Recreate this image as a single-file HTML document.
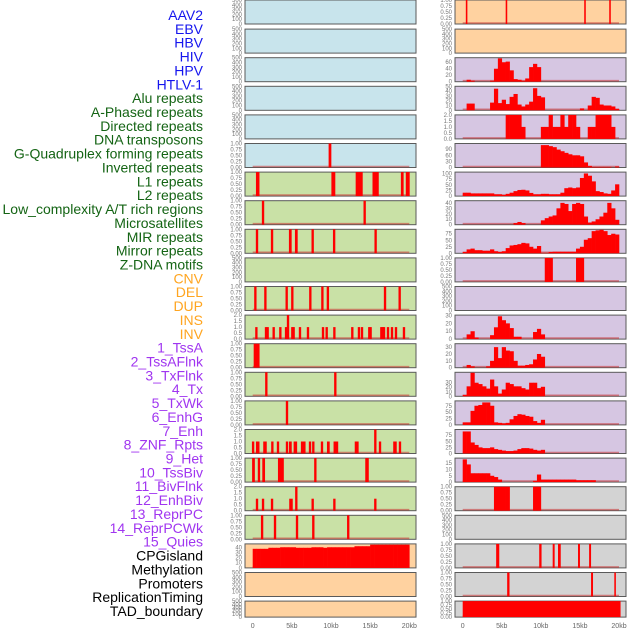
<!DOCTYPE html>
<html><head><meta charset="utf-8">
<style>
html,body{margin:0;padding:0;background:#fff;}
svg{display:block;font-family:"Liberation Sans",sans-serif;}
</style></head>
<body>
<svg id="chart" width="630" height="630" viewBox="0 0 630 630"></svg>
<script>
// ---------- data ----------
const trackLabels = ["AAV2","EBV","HBV","HIV","HPV","HTLV-1","Alu repeats","A-Phased repeats","Directed repeats","DNA transposons","G-Quadruplex forming repeats","Inverted repeats","L1 repeats","L2 repeats","Low_complexity A/T rich regions","Microsatellites","MIR repeats","Mirror repeats","Z-DNA motifs","CNV","DEL","DUP","INS","INV","1_TssA","2_TssAFlnk","3_TxFlnk","4_Tx","5_TxWk","6_EnhG","7_Enh","8_ZNF_Rpts","9_Het","10_TssBiv","11_BivFlnk","12_EnhBiv","13_ReprPC","14_ReprPCWk","15_Quies","CPGisland","Methylation","Promoters","ReplicationTiming","TAD_boundary"];
const labelGroups = ["virus","virus","virus","virus","virus","virus","repeat","repeat","repeat","repeat","repeat","repeat","repeat","repeat","repeat","repeat","repeat","repeat","repeat","sv","sv","sv","sv","sv","state","state","state","state","state","state","state","state","state","state","state","state","state","state","state","other","other","other","other","other"];
const xTickValues = [0,5,10,15,20];
const xTickLabels = ["0","5kb","10kb","15kb","20kb"];

// left column spike tracks (positions in kb, heights)
const L5pos=[9.87], L5h=[1], L5w=[0.35];
const L6pos=[0.64,10.3,13.6,15.7,19.1,19.8], L6h=[1,1,1,1,1,1], L6w=[0.45,0.5,0.9,0.8,0.35,0.5];
const L7pos=[1.32,14.3], L7h=[1,1];
const L8pos=[0.55,2.47,4.8,5.57,7.66,10.4,15.7], L8h=[1,1,1,1,1,1,1], L8w=[0.3,0.3,0.35,0.35,0.3,0.3,0.3];
const L10pos=[0.34,1.62,4.34,5.06,7.36,8.9,9.6,16.9,18.77], L10h=[1,1,1,1,1,1,1,1,1];
const L11pos=[0.47,1.70,1.91,2.68,3.53,4.26,4.47,4.51,5.06,5.23,6.04,7.06,8.98,9.45,10.43,12.72,13.57,13.96,14.89,15.06,16.43,16.6,16.77,17.28,17.79,18.3,19.32];
const L11h=[1,1,1,1,1,1,1,2,1,1,1,1,1,1,1,1,1,1,1,1,1,1,1,1,1,1,1];
const L12pos=[0.5], L12h=[1], L12w=[0.75];
const L13pos=[1.74,10.55], L13h=[1,1];
const L14pos=[4.38], L14h=[1];
const L15pos=[0.05,0.64,1.57,2.51,3.23,4.38,4.81,5.45,6.38,6.6,7.32,7.74,8.85,9.66,10.55,10.77,13.28,15.66,16.26,18.17,18.81];
const L15h=[1,1,1,1,1,1,1,1,1,1,1,1,1,1,1,1,1,2,1,1,1];
const L15w=[0.3,0.45,0.45,0.3,0.3,0.3,0.35,0.45,0.45,0.3,0.3,0.3,0.3,0.35,0.45,0.3,0.5,0.3,0.3,0.45,0.3];
const L16pos=[0.1,0.8,1.4,3.6,8.0,14.6], L16h=[1,1,1,1,1,1], L16w=[0.35,0.3,0.35,0.75,0.3,0.45];
const L17pos=[0.55,1.32,2.47,4.89,5.57,7.66,10.43,15.66], L17h=[1,1,1,1,2,1,1,1], L17w=[0.3,0.3,0.3,0.45,0.3,0.3,0.3,0.3];
const L18pos=[1.2,2.85,5.66,7.74,12.2], L18h=[1,1,1,1,1];
const L19bins=[37,37,37,37,39,39,39,40,40,40,40,39,39,39,39,40,40,40,39,40,40,40,40,40,40,40,42,42,42,42,45,45,45,45,45,45,45,45,45,45];

// right column tracks
const R0pos=[0.5,5.6,15.65,18.85], R0h=[1,1,1,1], R0w=[0.2,0.2,0.2,0.2];
const R2bins=[0,6,3,0,0,0,0,3,40,72,60,62,35,8,6,3,10,45,55,45,0,0,0,0,0,0,0,0,0,0,0,0,0,0,0,0,0,0,0,0];
const R3bins=[0,14,14,0,0,0,0,16,45,15,22,13,28,34,12,8,12,18,46,30,27,0,0,0,0,0,0,0,0,0,4,0,10,28,26,12,10,10,8,3];
const R4bins=[0,0,0,0,0,0,0,0,0,0,0,2,2,2,2,1,0,0,0,0,1,1,2,1,1,2,1,2,2,1,0,0,1,1,2,2,2,2,1,0];
const R5bins=[0,0,0,0,0,0,0,0,0,0,0,0,0,0,0,0,0,0,0,0,110,110,105,100,88,80,72,65,60,60,55,25,8,3,3,3,3,3,0,5];
const R6bins=[15,15,12,12,12,12,12,12,8,8,5,10,15,22,27,28,25,14,8,8,10,10,8,8,8,15,35,38,35,38,80,100,90,65,22,18,12,10,25,52];
const R7bins=[0,0,0,0,0,0,0,0,0,0,0,0,0,3,5,3,0,0,0,0,8,12,15,17,30,40,38,25,38,40,38,15,4,6,10,15,22,40,30,9];
const R8bins=[5,15,18,12,12,10,10,15,8,5,8,20,30,32,35,40,38,25,18,28,2,2,5,6,6,6,6,6,6,18,25,52,58,85,88,90,85,70,75,72];
const R9bins=[0,0,0,0,0,0,0,0,0,0,0,0,0,0,0,0,0,0,0,0,0,1,1,0,0,0,0,0,0,1,1,0,0,0,0,0,0,0,0,0];
const R11bins=[0,6,10,2,0,0,0,5,15,29,24,20,14,3,3,0,0,0,9,13,6,0,0,0,0,0,0,0,0,0,0,0,0,0,0,0,0,0,0,0];
const R12bins=[0,4,2,0,0,0,2,10,30,14,30,25,24,10,3,3,4,5,12,20,16,0,0,0,0,0,0,0,0,0,0,0,0,0,0,0,0,0,0,0];
const R13bins=[3,22,52,30,27,22,17,37,22,6,15,30,27,22,22,18,15,30,30,18,21,0,0,0,0,0,0,0,0,0,0,0,0,0,0,0,0,0,0,0];
const R14bins=[10,10,55,75,78,88,88,75,10,8,6,8,22,35,42,40,35,32,15,8,20,0,0,0,0,0,0,0,0,0,0,0,0,0,0,0,0,0,0,0];
const R15bins=[90,90,45,35,25,22,22,25,18,15,12,10,10,12,18,22,22,20,15,12,15,0,0,0,0,0,0,0,0,0,0,0,0,0,0,0,0,0,0,0];
const R16bins=[18,14,7,7,7,7,7,5,4,2,0,0,0,0,0,0,0,0,1,6,2,2,2,2,2,2,2,2,2,1.5,1.5,1.5,1.5,1.5,0,0,0,0,0,0];
const R17bins=[0,0,0,0,0,0,0,0,1,1,1,1,0,0,0,0,0,0,1,1,0,0,0,0,0,0,0,0,0,0,0,0,0,0,0,0,0,0,0,0];
const R19pos=[4.48,9.94,11.64,12.37,14.88,16.3], R19h=[1,1,1,1,1,1], R19w=[0.4,0.3,0.25,0.35,0.25,0.25];
const R20pos=[5.84,16.55,19.5], R20h=[1,1,1], R20w=[0.3,0.25,0.2];
const R21pos=[10.1], R21h=[1], R21w=[20.2];

// ---------- rendering ----------
const svg=document.getElementById('chart');
const NS='http://www.w3.org/2000/svg';
function mk(tag,attrs,parent){const e=document.createElementNS(NS,tag);for(const k in attrs)e.setAttribute(k,attrs[k]);(parent||svg).appendChild(e);return e;}

const groupColor={virus:'#1515ee',repeat:'#146414',sv:'#ffa520',state:'#a035f0',other:'#000'};
const bgColors={blue:'#c8e4ec',green:'#c9e1a6',orange:'#ffd2a0',purple:'#d6c6e2',gray:'#d3d3d3'};
const EMPTY={kind:'empty'};
const sp=(pos,h,w,max)=>({kind:'spike',pos,h,w,max:max||1});
const hi=(bins,max,ticks,fmt)=>({kind:'hist',bins,max,ticks,fmt});
const T1=[0,0.25,0.5,0.75,1], T2=[0,0.5,1,1.5,2];

const leftTracks=[EMPTY,EMPTY,EMPTY,EMPTY,EMPTY,sp(L5pos,L5h,L5w),sp(L6pos,L6h,L6w),sp(L7pos,L7h),sp(L8pos,L8h,L8w),EMPTY,
 sp(L10pos,L10h),sp(L11pos,L11h,null,2),sp(L12pos,L12h,L12w),sp(L13pos,L13h),sp(L14pos,L14h),sp(L15pos,L15h,L15w,2),
 sp(L16pos,L16h,L16w),sp(L17pos,L17h,L17w,2),sp(L18pos,L18h),hi(L19bins,46.5,[0,10,20,30,40]),EMPTY,EMPTY];
const leftBg=['blue','blue','blue','blue','blue','blue','green','green','green','green','green','green','green','green','green','green','green','green','green','orange','orange','orange'];
const rightTracks=[sp(R0pos,R0h,R0w),EMPTY,hi(R2bins,74,[0,20,40,60]),hi(R3bins,50,[0,10,20,30,40,50]),hi(R4bins,2,T2,1),
 hi(R5bins,118,[0,30,60,90]),hi(R6bins,106,[0,25,50,75,100]),hi(R7bins,44,[0,10,20,30,40]),hi(R8bins,92,[0,25,50,75]),
 hi(R9bins,1,T1,2),EMPTY,hi(R11bins,30.5,[0,10,20,30]),hi(R12bins,35,[0,10,20,30]),hi(R13bins,53,[0,10,20,30]),
 hi(R14bins,94,[0,25,50,75]),hi(R15bins,98,[0,25,50,75]),hi(R16bins,19,[0,5,10,15]),hi(R17bins,1,T1,2),EMPTY,
 sp(R19pos,R19h,R19w),sp(R20pos,R20h,R20w),sp(R21pos,R21h,R21w)];
const rightBg=['orange','orange','purple','purple','purple','purple','purple','purple','purple','purple','purple','purple','purple','purple','purple','purple','purple','gray','gray','gray','gray','gray'];

function panelTop(i){return i===0?0:0.5+28.6*i;}
function panelH(i){return i===21?16:24;}

function fmtTick(v,max,fmt){
  if(fmt===1||max===2) return v.toFixed(1);
  if(fmt===2||max===1) return v.toFixed(2);
  return String(v);
}

function drawTrack(col,i,tr,bg){
  const px=col===0?245:455, pw=171;
  const x0=col===0?252.7:462.7, x1=col===0?409.3:619;
  const xs=kb=>x0+(x1-x0)*kb/20;
  const top=panelTop(i), h=panelH(i), bot=top+h;
  const g=mk('g',{});
  
  
  const r=mk('rect',{x:px,y:top,width:pw,height:h,fill:bgColors[bg],stroke:'#5a5a5a','stroke-width':1},g);
  
  
  let max,ticks,fmt;
  if(tr.kind==='empty'){max=500;ticks=[0,100,200,300,400,500];}
  else if(tr.kind==='spike'){max=tr.max;ticks=tr.max===2?T2:T1;}
  else {max=tr.max;ticks=tr.ticks;fmt=tr.fmt;}
  const ys=v=>bot-(h)*v/max;
  ticks.forEach(t=>{
    const y=ys(t);
    if(y<top-3) return;
    const tx=mk('text',{x:px-3,y:y+2,'font-size':6,'text-anchor':'end',fill:'#777'},g);
    tx.textContent=tr.kind==='empty'?String(t):fmtTick(t,max,fmt);
    
    
  });
  if(tr.kind==='empty') return;
  const base=mk('line',{x1:xs(0),x2:xs(20),y1:bot-1,y2:bot-1,stroke:'rgba(200,50,50,0.55)','stroke-width':1.6},g);
  
  
  if(tr.kind==='spike'){
    tr.pos.forEach((p,k)=>{
      const w=tr.w?tr.w[k]:0.3;
      const a=xs(p-w/2), b=xs(p+w/2);
      const yt=Math.max(top,ys(tr.h[k]));
      const m=mk('rect',{x:a,y:yt,width:Math.max(1.5,b-a),height:bot-yt,fill:'#ff0000'},g);
      
      
    });
  } else {
    tr.bins.forEach((v,k)=>{
      if(!v) return;
      const a=xs(k*0.5), b=xs((k+1)*0.5);
      const yt=Math.max(top,ys(v));
      const m=mk('rect',{x:a,y:yt,width:b-a+0.3,height:bot-yt,fill:'#ff0000'},g);
      
      
    });
  }
}

for(let i=0;i<22;i++){
  drawTrack(0,i,leftTracks[i],leftBg[i]);
  drawTrack(1,i,rightTracks[i],rightBg[i]);
}

// labels
trackLabels.forEach((t,k)=>{
  const e=mk('text',{x:203,y:15+13.86*k+5,'font-size':14,'text-anchor':'end',fill:groupColor[labelGroups[k]]});
  e.textContent=t;
  
  
});

// x-axis ticks
[[252.7,409.3],[462.7,619]].forEach(([a,b],c)=>{
  xTickValues.forEach((v,k)=>{
    const e=mk('text',{x:a+(b-a)*v/20,y:628,'font-size':7,'text-anchor':'middle',fill:'#666'});
    e.textContent=xTickLabels[k];
    
    
  });
});
</script>
</body></html>
